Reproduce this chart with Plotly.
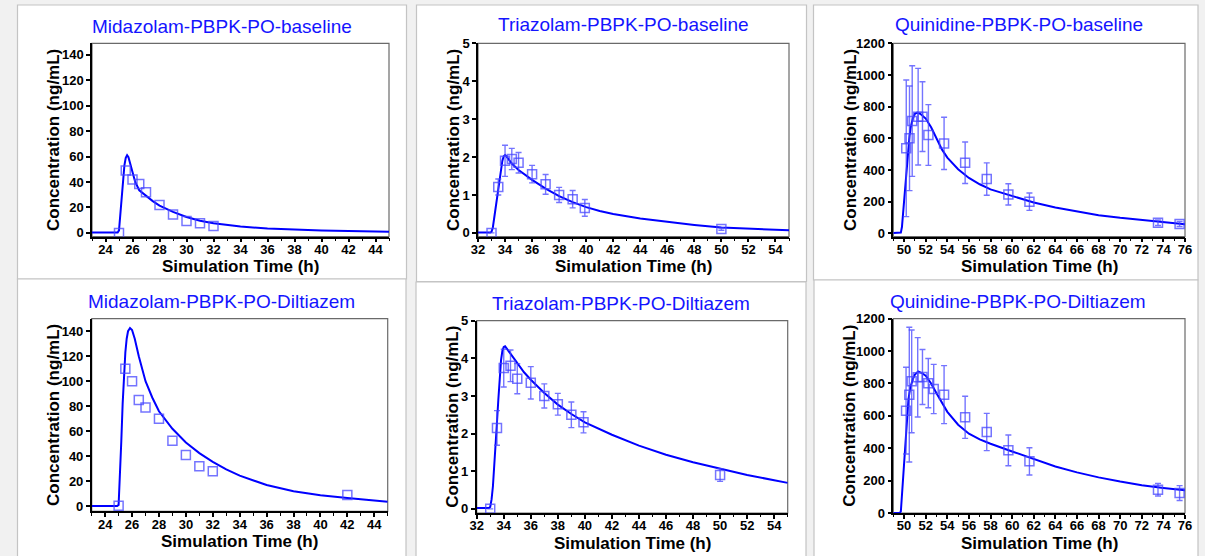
import plotly.graph_objects as go

W, H = 1205, 556

# ---------------- data ----------------
# Midazolam baseline
mid_base_sim_t = [23, 24, 24.9, 25.0, 25.1, 25.2, 25.3, 25.4, 25.5, 25.6, 25.7, 25.8, 26.0, 26.2, 26.5, 27, 27.5, 28, 29, 30, 31, 32, 33, 34, 36, 38, 40, 42, 44, 45]
mid_base_sim_c = [0.3, 0.3, 0.3, 2, 14, 30, 43, 53, 59, 61, 59.5, 56, 49, 40, 33.5, 29, 25, 21.5, 16.5, 12.5, 9.6, 7.6, 6.2, 5.0, 3.4, 2.5, 1.9, 1.4, 1.0, 0.8]
mid_base_obs_t = [25, 25.5, 26, 26.5, 27, 28, 29, 30, 31, 32]
mid_base_obs_c = [0, 49, 42, 38.5, 32, 22, 14.5, 9.3, 7.5, 5.5]

# Midazolam + diltiazem
mid_dil_sim_t = [23, 24.9, 25.0, 25.1, 25.2, 25.3, 25.4, 25.5, 25.6, 25.7, 25.85, 26.0, 26.2, 26.5, 27, 27.5, 28, 29, 30, 31, 32, 33, 34, 36, 38, 40, 42, 44, 45]
mid_dil_sim_c = [0.3, 0.3, 1, 22, 52, 82, 106, 123, 134, 140, 142.5, 141, 134, 120, 100, 87, 76, 62, 51, 42.5, 35.5, 29.5, 24.5, 17, 12, 8.8, 6.6, 4.6, 3.6]
mid_dil_obs_t = [25, 25.5, 26, 26.5, 27, 28, 29, 30, 31, 32, 42]
mid_dil_obs_c = [0.5, 110, 100, 85, 79, 70, 52.5, 41, 32, 28, 9]

# Triazolam baseline
tri_base_sim_t = [32, 32.9, 33.0, 33.1, 33.2, 33.3, 33.4, 33.5, 33.6, 33.7, 33.8, 33.9, 34.0, 34.1, 34.3, 34.5, 35, 35.5, 36, 37, 38, 39, 40, 41, 42, 44, 46, 48, 50, 52, 54, 55]
tri_base_sim_c = [0.01, 0.01, 0.03, 0.15, 0.4, 0.65, 0.93, 1.2, 1.45, 1.7, 1.9, 2.02, 2.05, 2.02, 1.93, 1.83, 1.66, 1.52, 1.4, 1.17, 0.97, 0.81, 0.68, 0.58, 0.5, 0.38, 0.29, 0.21, 0.14, 0.11, 0.08, 0.07]
tri_base_obs_t = [33, 33.5, 34, 34.5, 35, 36, 37, 38, 39, 39.9, 50]
tri_base_obs_c = [0, 1.21, 1.9, 1.95, 1.85, 1.55, 1.28, 1.0, 0.89, 0.66, 0.1]
tri_base_obs_e = [0, 0.21, 0.41, 0.28, 0.27, 0.23, 0.26, 0.2, 0.23, 0.22, 0.03]

# Triazolam + diltiazem
tri_dil_sim_t = [32, 32.9, 33.0, 33.1, 33.2, 33.3, 33.4, 33.5, 33.6, 33.7, 33.8, 33.9, 34.0, 34.1, 34.3, 34.5, 35, 35.5, 36, 37, 38, 39, 40, 42, 44, 46, 48, 50, 52, 54, 55]
tri_dil_sim_c = [0.02, 0.02, 0.05, 0.25, 0.6, 1.1, 1.7, 2.3, 2.9, 3.5, 3.95, 4.2, 4.3, 4.32, 4.22, 4.12, 3.85, 3.63, 3.43, 3.08, 2.77, 2.52, 2.3, 1.97, 1.68, 1.44, 1.24, 1.06, 0.9, 0.76, 0.69]
tri_dil_obs_t = [33, 33.5, 34, 34.5, 35, 36, 37, 38, 39, 39.9, 50]
tri_dil_obs_c = [0, 2.15, 3.74, 3.8, 3.46, 3.35, 3.0, 2.78, 2.5, 2.3, 0.9]
tri_dil_obs_e = [0, 0.46, 0.5, 0.42, 0.4, 0.43, 0.32, 0.29, 0.34, 0.28, 0.17]

# Quinidine baseline
qui_base_sim_t = [49, 49.5, 49.7, 49.8, 49.9, 50.0, 50.1, 50.2, 50.3, 50.4, 50.5, 50.6, 50.8, 51.0, 51.2, 51.5, 52, 52.5, 53, 53.5, 54, 55, 56, 57, 58, 60, 62, 64, 66, 68, 70, 72, 74, 76]
qui_base_sim_c = [2, 2, 5, 40, 120, 220, 320, 410, 490, 560, 615, 665, 725, 755, 762, 755, 725, 670, 595, 530, 478, 405, 350, 310, 278, 235, 195, 163, 137, 115, 98, 84, 70, 58]
qui_base_obs_t = [50.2, 50.5, 50.75, 51.3, 51.7, 52.25, 53.7, 55.65, 57.65, 59.65, 61.6, 73.5, 75.5]
qui_base_obs_c = [537, 600, 709, 737, 737, 621, 568, 446, 343, 246, 200, 67, 59]
qui_base_obs_e = [431, 330, 349, 305, 220, 192, 165, 131, 102, 67, 55, 17, 16]

# Quinidine + diltiazem
qui_dil_sim_t = [49, 49.6, 49.7, 49.8, 49.9, 50.0, 50.1, 50.2, 50.3, 50.4, 50.5, 50.6, 50.8, 51.0, 51.3, 51.6, 52, 52.5, 53, 53.5, 54, 55, 56, 57, 58, 60, 62, 64, 66, 68, 70, 72, 74, 76]
qui_dil_sim_c = [0, 0, 10, 110, 230, 350, 460, 560, 640, 700, 745, 780, 825, 855, 874, 866, 848, 800, 740, 680, 625, 545, 490, 455, 428, 380, 334, 287, 251, 220, 194, 172, 155, 141]
qui_dil_obs_t = [50.18, 50.48, 50.7, 51.26, 51.7, 52.24, 52.74, 53.7, 55.65, 57.65, 59.65, 61.6, 73.5, 75.5]
qui_dil_obs_c = [632, 731, 813, 838, 840, 802, 766, 731, 591, 500, 387, 319, 144, 123]
qui_dil_obs_e = [268, 416, 317, 245, 170, 152, 152, 179, 130, 115, 95, 84, 39, 46]

titles = ["Midazolam-PBPK-PO-baseline", "Triazolam-PBPK-PO-baseline", "Quinidine-PBPK-PO-baseline",
          "Midazolam-PBPK-PO-Diltiazem", "Triazolam-PBPK-PO-Diltiazem", "Quinidine-PBPK-PO-Diltiazem"]
x_title = "Simulation Time (h)"
y_title = "Concentration (ng/mL)"

panels = [
    dict(sim=(mid_base_sim_t, mid_base_sim_c), obs=(mid_base_obs_t, mid_base_obs_c, None),
         xr=[23, 45], xt0=24, yr=[-3, 149], ydt=20,
         dom=(92, 389, 43.3, 236.7), box=(17.5, 406.5, 5, 279), tx=222, ty=26, ytx=53, xty=266.5),
    dict(sim=(tri_base_sim_t, tri_base_sim_c), obs=(tri_base_obs_t, tri_base_obs_c, tri_base_obs_e),
         xr=[32, 55], xt0=32, yr=[-0.1, 5], ydt=1,
         dom=(478, 789, 43.3, 236.7), box=(416.5, 806.5, 5, 281.5), tx=623, ty=25, ytx=453, xty=266.5),
    dict(sim=(qui_base_sim_t, qui_base_sim_c), obs=(qui_base_obs_t, qui_base_obs_c, qui_base_obs_e),
         xr=[49, 76], xt0=50, yr=[-21, 1200], ydt=200,
         dom=(893.3, 1185, 43.3, 236.7), box=(813.5, 1198, 5, 280), tx=1018.5, ty=25, ytx=850, xty=266.5),
    dict(sim=(mid_dil_sim_t, mid_dil_sim_c), obs=(mid_dil_obs_t, mid_dil_obs_c, None),
         xr=[23, 45], xt0=24, yr=[-4, 150], ydt=20,
         dom=(91.7, 387.7, 318.7, 511.3), box=(17.5, 406, 279, 570), tx=221.7, ty=301.3, ytx=53, xty=541.5),
    dict(sim=(tri_dil_sim_t, tri_dil_sim_c), obs=(tri_dil_obs_t, tri_dil_obs_c, tri_dil_obs_e),
         xr=[32, 55], xt0=32, yr=[-0.11, 5], ydt=1,
         dom=(476.7, 787.7, 320.7, 513), box=(416, 806, 282, 570), tx=621.3, ty=303, ytx=453, xty=543),
    dict(sim=(qui_dil_sim_t, qui_dil_sim_c), obs=(qui_dil_obs_t, qui_dil_obs_c, qui_dil_obs_e),
         xr=[49, 76], xt0=50, yr=[0, 1200], ydt=200,
         dom=(893.3, 1185, 318.7, 513), box=(814, 1198, 280, 570), tx=1018, ty=301.3, ytx=850, xty=543),
]

FONT = "Liberation Sans, Arial, sans-serif"
BLUE = "#0000ff"
OBS = "rgba(70,70,255,0.75)"

def px(x):
    return x / W

def py(y):
    return 1 - y / H

fig = go.Figure()
shapes = []
annotations = []

# panel boxes
for p in panels:
    x0, x1, y0, y1 = p["box"]
    shapes.append(dict(type="rect", xref="paper", yref="paper", layer="below",
                       x0=px(x0), x1=px(x1), y0=py(y1), y1=py(y0),
                       fillcolor="white", line=dict(color="#c4c4c4", width=1.2)))

for i, p in enumerate(panels, start=1):
    xa = "x" if i == 1 else f"x{i}"
    ya = "y" if i == 1 else f"y{i}"
    st, sc = p["sim"]
    ot, oc, oe = p["obs"]
    fig.add_trace(go.Scatter(x=st, y=sc, mode="lines", line=dict(color=BLUE, width=2),
                             xaxis=xa, yaxis=ya, showlegend=False, hoverinfo="skip"))
    err = None
    if oe is not None:
        err = dict(type="data", array=oe, visible=True, color=OBS, thickness=1.4, width=3)
    fig.add_trace(go.Scatter(x=ot, y=oc, mode="markers", error_y=err,
                             marker=dict(symbol="square-open", size=9, color=OBS,
                                         line=dict(color=OBS, width=1.5)),
                             xaxis=xa, yaxis=ya, showlegend=False))
    l, r, t, b = p["dom"]
    axkey = "xaxis" if i == 1 else f"xaxis{i}"
    aykey = "yaxis" if i == 1 else f"yaxis{i}"
    fig.layout[axkey] = dict(
        domain=[px(l), px(r)], anchor=ya, range=p["xr"], tick0=p["xt0"], dtick=2,
        automargin=False, ticklabelstandoff=-4,
        ticks="outside", ticklen=4, tickwidth=1.5, tickcolor="black",
        showline=True, linecolor="black", linewidth=1.5, showgrid=False, zeroline=False,
        tickfont=dict(family=FONT, size=13, color="black", weight="bold"),
        minor=dict(dtick=1, ticks="outside", ticklen=2.5, tickcolor="black", tickwidth=1, showgrid=False),
    )
    fig.layout[aykey] = dict(
        domain=[py(b), py(t)], anchor=xa, range=p["yr"], tick0=0, dtick=p["ydt"],
        automargin=False,
        ticks="outside", ticklen=4, tickwidth=1.5, tickcolor="black",
        showline=True, linecolor="black", linewidth=1.5, showgrid=False, zeroline=False,
        tickfont=dict(family=FONT, size=13, color="black", weight="bold"),
    )
    # plot area frame (top/right grey)
    shapes.append(dict(type="rect", xref="paper", yref="paper", layer="below",
                       x0=px(l), x1=px(r), y0=py(b), y1=py(t),
                       fillcolor="white", line=dict(color="#6a6a6a", width=1.2)))
    annotations.append(dict(text=titles[i - 1], xref="paper", yref="paper", x=px(p["tx"]), y=py(p["ty"]),
                            xanchor="center", yanchor="middle", showarrow=False,
                            font=dict(family=FONT, size=19, color="#1414ff")))
    annotations.append(dict(text=x_title, xref="paper", yref="paper", x=px((l + r) / 2), y=py(p["xty"]),
                            xanchor="center", yanchor="middle", showarrow=False,
                            font=dict(family=FONT, size=17, color="black", weight="bold")))
    annotations.append(dict(text=y_title, xref="paper", yref="paper", x=px(p["ytx"]), y=py((t + b) / 2),
                            xanchor="center", yanchor="middle", showarrow=False, textangle=-90,
                            font=dict(family=FONT, size=17, color="black", weight="bold")))

fig.update_layout(template="none", width=W, height=H, margin=dict(l=0, r=0, t=0, b=0, pad=0),
                  paper_bgcolor="#f1f1f1", plot_bgcolor="rgba(0,0,0,0)",
                  shapes=shapes, annotations=annotations, showlegend=False)

fig.write_html("out.html", config={"displayModeBar": False})
